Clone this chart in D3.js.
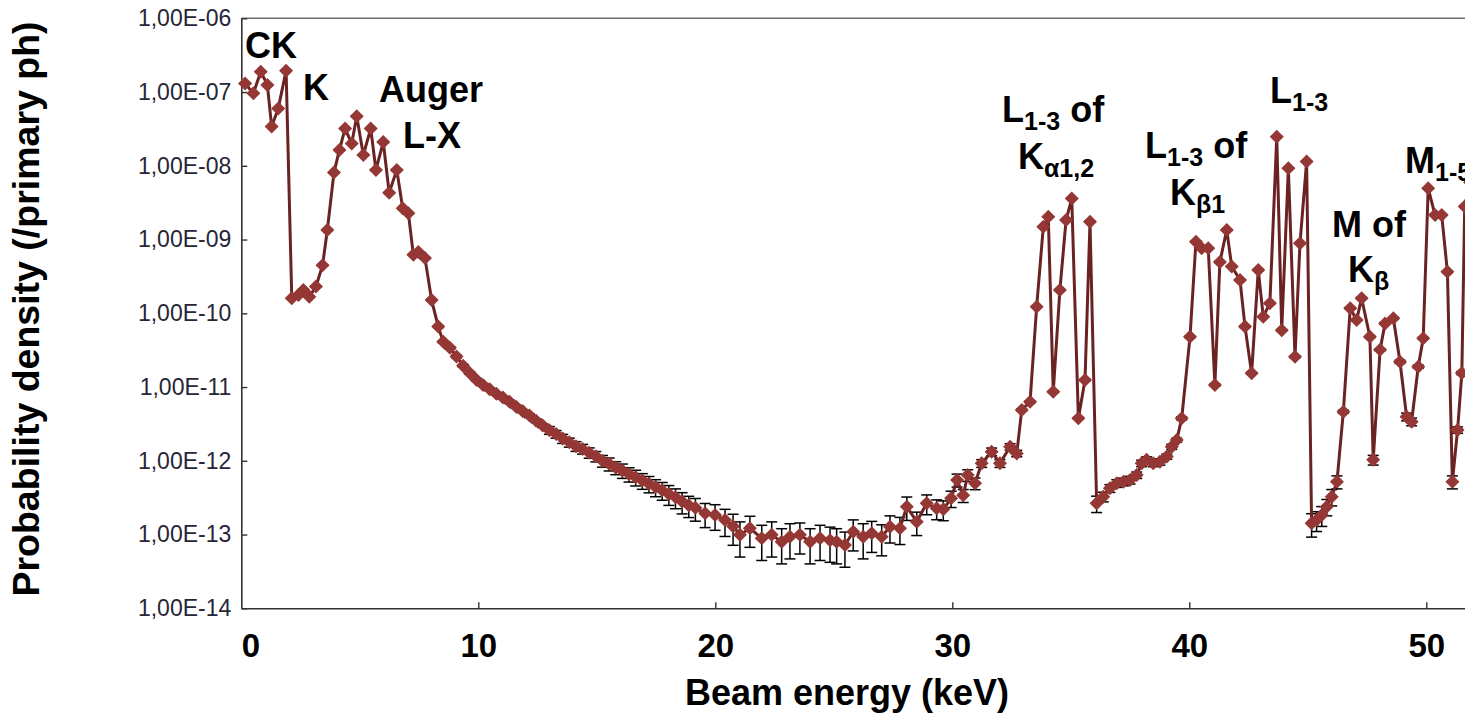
<!DOCTYPE html>
<html>
<head>
<meta charset="utf-8">
<script src="https://cdn.jsdelivr.net/npm/d3@7"></script>
<style>
  html, body { margin: 0; padding: 0; background: #ffffff; }
  svg { display: block; }
  text { font-family: "Liberation Sans", Arial, Helvetica, sans-serif; }
</style>
</head>
<body>
<svg id="chart" width="1465" height="716"></svg>
<script>
// ---------------- DATA ----------------
const energyKeV = [
  0.16, 0.51, 0.82, 1.10, 1.28, 1.56, 1.89, 2.13, 2.41, 2.62, 2.87, 3.15, 3.43, 3.63, 3.91, 4.14, 4.38,
  4.66, 4.87, 5.15, 5.46, 5.68, 5.99, 6.24, 6.56, 6.81, 7.05, 7.26, 7.47, 7.75, 8.03, 8.31, 8.52,
  8.80, 9.08, 9.36, 9.64, 9.92, 10.20, 10.48, 10.76, 11.04, 11.32, 11.60, 11.88, 12.16, 12.44, 12.72,
  13.00, 13.28, 13.56, 13.84, 14.12, 14.40, 14.68, 14.96, 15.24,
  15.52, 15.80, 16.08, 16.36, 16.64, 16.92, 17.20, 17.48, 17.76,
  18.04, 18.32, 18.60, 18.88, 19.16,
  19.57, 19.99, 20.41,
  20.75, 21.04, 21.46, 21.96, 22.38, 22.80, 23.15, 23.57, 24.00, 24.42, 24.84, 25.12, 25.47, 25.82, 26.24, 26.60, 27.02, 27.37, 27.79,
  28.08, 28.50, 28.92, 29.34, 29.62,
  29.95, 30.20, 30.46, 30.65, 30.96,
  31.24, 31.66, 32.01, 32.44, 32.72,
  32.93, 33.28, 33.56, 33.84, 34.05, 34.26, 34.54, 34.80, 35.04, 35.32, 35.60, 35.81,
  36.09, 36.37, 36.65, 36.94, 37.22, 37.50, 37.78, 37.99, 38.20, 38.48, 38.76, 39.05, 39.26, 39.47, 39.68,
  40.03, 40.28, 40.52, 40.80, 41.08, 41.29, 41.58, 41.79, 42.14, 42.35, 42.63, 42.91, 43.12, 43.40, 43.69, 43.90, 44.18, 44.46, 44.67, 44.95,
  45.16, 45.37, 45.59, 45.80, 46.01, 46.23,
  46.50, 46.79, 47.06, 47.27, 47.62, 47.76, 48.05, 48.26, 48.61, 48.89, 49.17, 49.38, 49.66, 49.87, 50.08, 50.37, 50.65, 50.89, 51.10, 51.32, 51.50, 51.62, 51.85
];

const probabilityDensity = [
  1.31e-7, 9.6e-8, 1.89e-7, 1.25e-7, 3.4e-8, 6.0e-8, 1.95e-7, 1.6e-10, 1.77e-10, 2.07e-10, 1.68e-10, 2.3e-10, 4.5e-10, 1.35e-9, 8.1e-9, 1.64e-8, 3.2e-8,
  2.0e-8, 4.7e-8, 1.4e-8, 3.2e-8, 8.8e-9, 2.1e-8, 4.3e-9, 8.8e-9, 2.65e-9, 2.27e-9, 6.2e-10, 6.8e-10, 5.6e-10, 1.51e-10, 6.6e-11, 4.1e-11,
  3.4e-11, 2.6e-11, 1.95e-11, 1.55e-11, 1.26e-11, 1.07e-11, 9.3e-12, 8.1e-12, 7.2e-12, 6.3e-12, 5.4e-12, 4.7e-12, 4.1e-12, 3.5e-12, 3.0e-12,
  2.6e-12, 2.3e-12, 2.0e-12, 1.78e-12, 1.58e-12, 1.45e-12, 1.29e-12, 1.15e-12, 1.0e-12,
  9.1e-13, 8.1e-13, 7.4e-13, 6.6e-13, 6.0e-13, 5.4e-13, 4.9e-13, 4.4e-13, 4.0e-13,
  3.55e-13, 3.2e-13, 2.8e-13, 2.5e-13, 2.3e-13,
  1.94e-13, 1.84e-13, 1.57e-13,
  1.3e-13, 9.9e-14, 1.22e-13, 8.9e-14, 9.9e-14, 8.0e-14, 9.35e-14, 9.9e-14, 8.0e-14, 8.9e-14, 8.4e-14, 8.0e-14, 7.2e-14, 1.09e-13, 9.35e-14, 1.04e-13, 9.35e-14, 1.28e-13, 1.22e-13,
  2.39e-13, 1.49e-13, 2.65e-13, 2.27e-13, 2.2e-13,
  3.1e-13, 5.5e-13, 3.4e-13, 6.4e-13, 4.95e-13,
  9.25e-13, 1.33e-12, 9.25e-13, 1.55e-12, 1.26e-12,
  4.9e-12, 6.3e-12, 1.23e-10, 1.49e-9, 2.04e-9, 8.65e-12, 2.07e-10, 1.84e-9, 3.6e-9, 3.77e-12, 1.25e-11, 1.75e-9,
  2.65e-13, 3.26e-13, 4.24e-13, 4.95e-13, 5.2e-13, 5.5e-13, 6.4e-13, 9.25e-13, 1.03e-12, 9.25e-13, 9.7e-13, 1.14e-12, 1.55e-12, 1.91e-12, 3.77e-12,
  4.8e-11, 9.35e-10, 7.6e-10, 7.6e-10, 1.07e-11, 4.96e-10, 1.35e-9, 4.3e-10, 2.83e-10, 6.6e-11, 1.54e-11, 3.87e-10, 9.0e-11, 1.37e-10, 2.48e-8, 5.9e-11, 9.25e-9, 2.58e-11, 8.9e-10, 1.14e-8,
  1.42e-13, 1.57e-13, 1.84e-13, 2.39e-13, 3.26e-13, 5.2e-13,
  4.63e-12, 1.17e-10, 8.1e-11, 1.6e-10, 4.8e-11, 1.03e-12, 3.2e-11, 7.3e-11, 8.55e-11, 2.2e-11, 3.96e-12, 3.39e-12, 1.89e-11, 4.58e-11, 4.95e-9, 2.15e-9, 2.15e-9, 3.67e-10, 5.2e-13, 2.62e-12, 1.55e-11, 2.8e-9, 6.0e-9
];

const relativeError = [
  0.02, 0.02, 0.02, 0.02, 0.02, 0.02, 0.02, 0.02, 0.02, 0.02, 0.02, 0.02, 0.02, 0.02, 0.02, 0.02, 0.02,
  0.02, 0.02, 0.02, 0.02, 0.02, 0.02, 0.02, 0.02, 0.02, 0.02, 0.02, 0.02, 0.02, 0.02, 0.03, 0.03,
  0.04, 0.04, 0.04, 0.04, 0.04, 0.04, 0.04, 0.04, 0.04, 0.05, 0.05, 0.05, 0.06, 0.06, 0.06,
  0.12, 0.12, 0.14, 0.14, 0.15, 0.15, 0.16, 0.16, 0.18,
  0.2, 0.2, 0.22, 0.22, 0.24, 0.24, 0.25, 0.26, 0.27,
  0.3, 0.3, 0.32, 0.32, 0.34,
  0.36, 0.38, 0.4,
  0.45, 0.5, 0.45, 0.5, 0.5, 0.5, 0.5, 0.45, 0.5, 0.5, 0.5, 0.5, 0.5, 0.45, 0.5, 0.45, 0.45, 0.4, 0.4,
  0.35, 0.35, 0.3, 0.3, 0.3,
  0.25, 0.2, 0.2, 0.18, 0.18,
  0.12, 0.12, 0.12, 0.1, 0.1,
  0.03, 0.03, 0.02, 0.02, 0.02, 0.03, 0.02, 0.02, 0.02, 0.03, 0.03, 0.02,
  0.25, 0.15, 0.12, 0.12, 0.12, 0.12, 0.1, 0.1, 0.1, 0.1, 0.1, 0.08, 0.08, 0.06, 0.05,
  0.03, 0.02, 0.02, 0.02, 0.03, 0.02, 0.02, 0.02, 0.02, 0.03, 0.03, 0.02, 0.02, 0.02, 0.02, 0.02, 0.02, 0.03, 0.02, 0.02,
  0.35, 0.3, 0.3, 0.25, 0.25, 0.2,
  0.05, 0.03, 0.03, 0.03, 0.03, 0.15, 0.03, 0.03, 0.03, 0.05, 0.12, 0.12, 0.05, 0.03, 0.02, 0.02, 0.02, 0.03, 0.2, 0.1, 0.05, 0.02, 0.02
];

const xTickValues = [0, 10, 20, 30, 40, 50];
const yTickExponents = [-14, -13, -12, -11, -10, -9, -8, -7, -6];

// annotations: parts with optional subscript
const annotations = [
  { x: 245, y: 58, parts: [{ t: "CK" }] },
  { x: 303, y: 100, parts: [{ t: "K" }] },
  { x: 379, y: 102, parts: [{ t: "Auger" }] },
  { x: 403, y: 148, parts: [{ t: "L-X" }] },
  { x: 1002, y: 122, parts: [{ t: "L" }, { t: "1-3", sub: true }, { t: " of" }] },
  { x: 1018, y: 169, parts: [{ t: "K" }, { t: "α1,2", sub: true }] },
  { x: 1145, y: 158, parts: [{ t: "L" }, { t: "1-3", sub: true }, { t: " of" }] },
  { x: 1170, y: 205, parts: [{ t: "K" }, { t: "β1", sub: true }] },
  { x: 1270, y: 103, parts: [{ t: "L" }, { t: "1-3", sub: true }] },
  { x: 1332, y: 237, parts: [{ t: "M of" }] },
  { x: 1348, y: 282, parts: [{ t: "K" }, { t: "β", sub: true }] },
  { x: 1405, y: 173, parts: [{ t: "M" }, { t: "1-5", sub: true }] }
];

// ---------------- CHART ----------------
(function () {
const svg = d3.select("#chart");
const plotLeft = 241.3, plotTop = 18.3, plotBottom = 608.3, pxPerKeV = 23.7;
const xMax = 53;

const x = d3.scaleLinear().domain([0, xMax]).range([plotLeft, plotLeft + xMax * pxPerKeV]);
const y = d3.scaleLog().domain([1e-14, 1e-6]).range([plotBottom, plotTop]);

const data = energyKeV.map((e, i) => ({ e, v: probabilityDensity[i], r: relativeError[i] }));

// top border
svg.append("line")
  .attr("x1", plotLeft).attr("x2", 1465).attr("y1", plotTop).attr("y2", plotTop)
  .attr("stroke", "#707070").attr("stroke-width", 1.6);

// Y axis
const fmtY = v => {
  const ex = Math.round(Math.log10(v));
  return "1,00E" + (ex < 0 ? "-" : "+") + String(Math.abs(ex)).padStart(2, "0");
};
const yAxis = d3.axisLeft(y)
  .tickValues(yTickExponents.map(p => Math.pow(10, p)))
  .tickFormat(fmtY)
  .tickSizeInner(-6).tickSizeOuter(0).tickPadding(10);
const gy = svg.append("g").attr("transform", `translate(${plotLeft},0)`).call(yAxis);
gy.select(".domain").attr("stroke", "#333").attr("stroke-width", 1.6);
gy.selectAll(".tick line").attr("stroke", "#333").attr("stroke-width", 1.4);
gy.selectAll(".tick text")
  .attr("font-size", 23).attr("fill", "#262636")
  .attr("font-family", "'Liberation Sans', Arial, sans-serif");

// X axis
const xAxis = d3.axisBottom(x)
  .tickValues(xTickValues)
  .tickFormat(d3.format("d"))
  .tickSizeInner(-6).tickSizeOuter(0).tickPadding(25);
const gx = svg.append("g").attr("transform", `translate(0,${plotBottom})`).call(xAxis);
gx.select(".domain").attr("stroke", "#333").attr("stroke-width", 1.6);
gx.selectAll(".tick line").attr("stroke", "#333").attr("stroke-width", 1.4)
  .attr("opacity", d => d === 0 ? 0 : 1);
gx.selectAll(".tick text")
  .attr("font-size", 33).attr("font-weight", "bold").attr("fill", "#000")
  .attr("font-family", "'Liberation Sans', Arial, sans-serif")
  .attr("dx", d => d === 0 ? 9 : 0);

// axis titles
svg.append("text")
  .attr("x", 847).attr("y", 705)
  .attr("text-anchor", "middle")
  .attr("font-size", 36).attr("font-weight", "bold").attr("fill", "#000")
  .text("Beam energy (keV)");

svg.append("text")
  .attr("transform", "translate(39,309) rotate(-90)")
  .attr("text-anchor", "middle")
  .attr("font-size", 37.5).attr("font-weight", "bold").attr("fill", "#000")
  .text("Probability density (/primary ph)");

// error bars
const eb = svg.append("g").attr("stroke", "#000").attr("stroke-width", 1.5);
data.forEach(d => {
  const cx = x(d.e);
  const y1 = y(d.v * (1 + d.r));
  const y2 = y(Math.max(d.v * (1 - d.r), 1e-15));
  eb.append("line").attr("x1", cx).attr("x2", cx).attr("y1", y1).attr("y2", y2);
  eb.append("line").attr("x1", cx - 5.5).attr("x2", cx + 5.5).attr("y1", y1).attr("y2", y1);
  eb.append("line").attr("x1", cx - 5.5).attr("x2", cx + 5.5).attr("y1", y2).attr("y2", y2);
});

// line
const line = d3.line().x(d => x(d.e)).y(d => y(d.v));
svg.append("path").datum(data)
  .attr("d", line)
  .attr("fill", "none")
  .attr("stroke", "#6a2322")
  .attr("stroke-width", 3)
  .attr("stroke-linejoin", "round");

// markers
const diamond = "M0,-7L7,0L0,7L-7,0Z";
svg.append("g").selectAll("path").data(data).join("path")
  .attr("transform", d => `translate(${x(d.e)},${y(d.v)})`)
  .attr("d", diamond)
  .attr("fill", "#953735");

// annotations
annotations.forEach(a => {
  const t = svg.append("text")
    .attr("x", a.x).attr("y", a.y)
    .attr("font-size", 36).attr("font-weight", "bold").attr("fill", "#000");
  let shifted = false;
  a.parts.forEach(p => {
    const ts = t.append("tspan").text(p.t);
    if (p.sub) {
      ts.attr("font-size", 25).attr("dy", 8);
      shifted = true;
    } else {
      ts.attr("font-size", 36);
      if (shifted) { ts.attr("dy", -8); shifted = false; }
    }
  });
});
})();
</script>
</body>
</html>
